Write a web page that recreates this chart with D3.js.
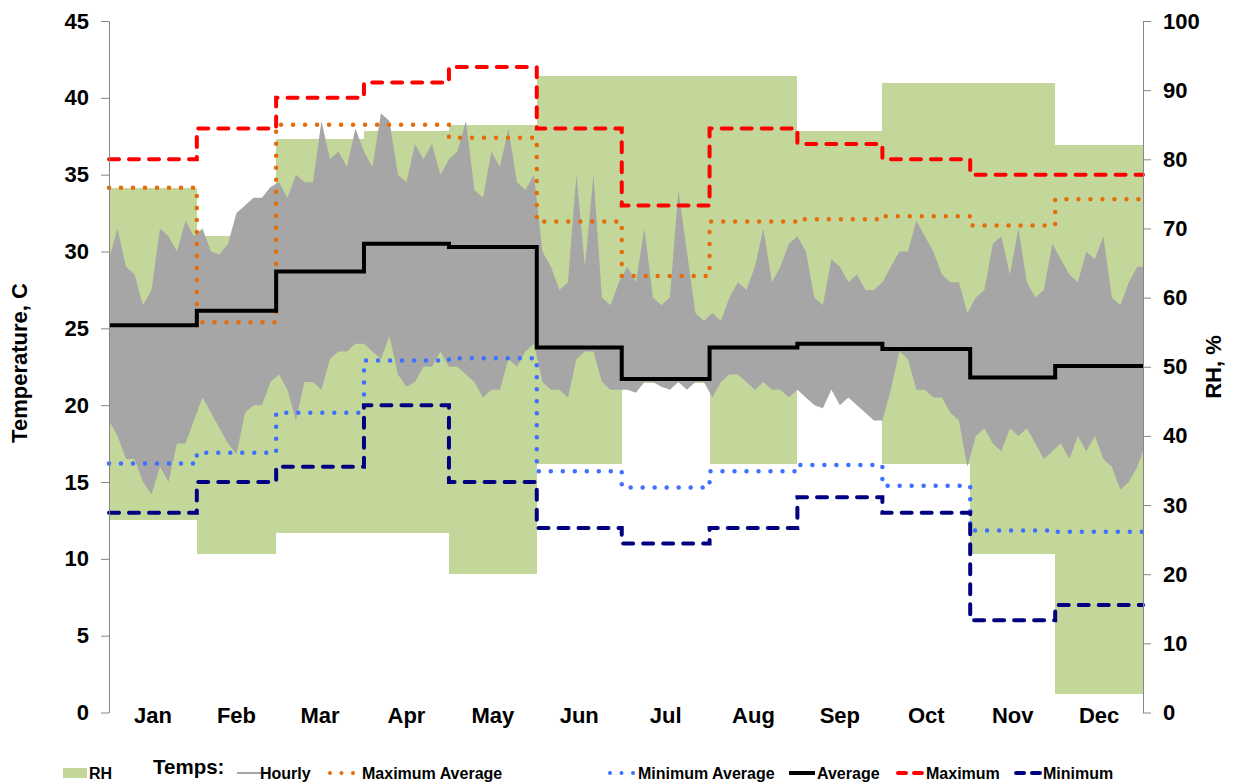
<!DOCTYPE html>
<html lang="en">
<head>
<meta charset="utf-8"/>
<title>Temperature and RH</title>
<script src="https://d3js.org/d3.v7.min.js"></script>
<style>
  body { margin: 0; background: #fff; }
  svg text { font-family: "Liberation Sans", Arial, sans-serif; font-weight: bold; fill: #000; }
  .axis .domain { stroke: #868686; }
  .axis line { stroke: #868686; }
</style>
</head>
<body>
<div id="chart"></div>
<script>
// months and day where each one starts
var months = ["Jan","Feb","Mar","Apr","May","Jun","Jul","Aug","Sep","Oct","Nov","Dec"];
var monthStart = [0, 31, 59, 90, 120, 151, 181, 212, 243, 273, 304, 334, 365];

// RH range per month, %
var rhMin = [27.9, 22.9, 25.9, 25.9, 20.0, 35.9, 47.6, 36.0, 48.1, 35.9, 22.9, 2.7];
var rhMax = [75.9, 68.9, 83.0, 84.1, 85.0, 92.1, 92.1, 92.1, 84.1, 91.0, 91.0, 82.0];

// monthly temperature statistics, C
var tMax    = [36, 38, 40, 41, 42, 38, 33, 38, 37, 36, 35, 35];
var tMaxAvg = [34.15, 25.4, 38.25, 38.25, 37.4, 31.95, 28.4, 31.95, 32.1, 32.3, 31.7, 33.4];
var tAvg    = [25.2, 26.15, 28.7, 30.5, 30.3, 23.75, 21.7, 23.75, 24.0, 23.65, 21.8, 22.55];
var tMinAvg = [16.2, 16.9, 19.5, 22.9, 23.05, 15.7, 14.65, 15.7, 16.1, 14.75, 11.85, 11.77];
var tMin    = [13, 15, 16, 20, 15, 12, 11, 12, 14, 13, 6, 7];

// hourly trace, read as high / low envelope every 3 days
var hourlyDay = d3.range(0, 364, 3).concat([365]);
var hourlyHi = [
  29.5,31.5,29,28.5,26.5,27.5,31.5,31,30,32,31,
  31.5,30,29.8,30.5,32.5,33,33.5,33.5,34.2,
  34.5,33.5,35,34.5,34.5,38.5,36,36.5,35.5,38,36.5,
  35.5,39,38.5,35,34.5,37,36,37,35,
  36,36.5,38.5,34,33.5,36.5,35.5,38,34.5,34,35,
  30,29,27.5,28,35,29,35,27,26.5,28,
  29,28,31.5,27,26.5,27,34,30,26,25.5,
  26,25.5,27,28,27.5,29,31.5,28,29,30.5,
  31,30,27,26.5,29.5,29,28,28.5,27.5,27.5,
  28,29,30,30,32,31,30,28.5,28,28,26,
  27,27.5,30.5,31,28.5,31.5,28,27,27.5,30.5,
  29.5,28.5,28,30,29.5,31,27,26.5,28,29,29
];
var hourlyLo = [
  19,18,16.5,16.5,15,14.2,16,15,17.5,17.5,19,
  20.5,19.5,18.5,17.5,16.8,19.5,20,20,21.5,
  22,21,19,21.5,21.5,21,23,23.5,23.5,24,24,
  23.5,23,24.5,22,21.2,21.5,22.5,22.5,23.5,
  22.5,22.5,22,21.5,20.5,21,21,23,22.5,23.5,24,
  21.5,21,21,20.5,23,23.5,23.5,21.5,21,21,
  21,20.8,21.5,21.5,21.2,21,21.5,21,21.5,21.5,
  20.5,21.5,22,22,21.5,21,21.5,21,21,20.5,
  21,20.5,20,19.8,21,20,20.5,20,19.5,19,
  19,21,23.5,23,21,21,20.5,20.5,19.5,19,16,
  18,18.5,17.5,17,18.5,18,18.5,17.5,16.5,17,
  17.5,16.5,18,17,18,16.5,16,14.5,15,16,17
];

var tTicks = [0, 5, 10, 15, 20, 25, 30, 35, 40, 45];
var rhTicks = [0, 10, 20, 30, 40, 50, 60, 70, 80, 90, 100];

var width = 1233, height = 784;
var m = {top: 21, right: 90, bottom: 71.5, left: 109};

var svg = d3.select("#chart").append("svg")
  .attr("width", width)
  .attr("height", height);

var x = d3.scaleLinear().domain([0, 365]).range([m.left, width - m.right]);
var yT = d3.scaleLinear().domain([0, 45]).range([height - m.bottom, m.top]);
var yRH = d3.scaleLinear().domain([0, 100]).range([height - m.bottom, m.top]);

// RH floating bars
svg.append("g")
  .attr("shape-rendering", "crispEdges")
  .selectAll("rect")
  .data(months)
  .enter().append("rect")
    .attr("x", function(d, i) { return Math.round(x(monthStart[i])); })
    .attr("width", function(d, i) { return Math.round(x(monthStart[i + 1])) - Math.round(x(monthStart[i])); })
    .attr("y", function(d, i) { return yRH(rhMax[i]); })
    .attr("height", function(d, i) { return yRH(rhMin[i]) - yRH(rhMax[i]); })
    .attr("fill", "#c4d79b");

// hourly band
var hourly = hourlyDay.map(function(d, i) { return {day: d, hi: hourlyHi[i], lo: hourlyLo[i]}; });
svg.append("path")
  .datum(hourly)
  .attr("fill", "#a6a6a6")
  .attr("d", d3.area()
    .x(function(d) { return x(d.day); })
    .y0(function(d) { return yT(d.lo); })
    .y1(function(d) { return yT(d.hi); }));

// monthly step lines
var stepLine = d3.line()
  .x(function(d) { return x(d[0]); })
  .y(function(d) { return yT(d[1]); })
  .curve(d3.curveStepAfter);

function steps(vals) {
  var pts = vals.map(function(v, i) { return [monthStart[i], v]; });
  pts.push([365, vals[vals.length - 1]]);
  return pts;
}

var series = [
  {name: "Maximum Average", vals: tMaxAvg, color: "#e46c0a", dotted: true},
  {name: "Minimum Average", vals: tMinAvg, color: "#3f6fff", dotted: true},
  {name: "Average", vals: tAvg, color: "#000", solid: true},
  {name: "Maximum", vals: tMax, color: "#ff0000"},
  {name: "Minimum", vals: tMin, color: "#000080"}
];

function dashOf(d) { return d.solid ? null : (d.dotted ? "0,12" : "10,10"); }

svg.append("g")
  .selectAll("path")
  .data(series)
  .enter().append("path")
    .attr("fill", "none")
    .attr("stroke", function(d) { return d.color; })
    .attr("stroke-width", function(d) { return d.dotted ? 4.5 : 4; })
    .attr("stroke-dasharray", dashOf)
    .attr("stroke-linecap", function(d) { return d.solid ? "butt" : "round"; })
    .attr("d", function(d) { return stepLine(steps(d.vals)); });

// axes
var gl = svg.append("g")
  .attr("class", "axis")
  .attr("transform", "translate(" + m.left + ",0)")
  .call(d3.axisLeft(yT).tickValues(tTicks).tickSize(8).tickPadding(12).tickSizeOuter(0));
gl.selectAll("text").style("font-size", "22px");

var gr = svg.append("g")
  .attr("class", "axis")
  .attr("transform", "translate(" + (width - m.right) + ",0)")
  .call(d3.axisRight(yRH).tickValues(rhTicks).tickSize(8).tickPadding(12).tickSizeOuter(0));
gr.selectAll("text").style("font-size", "22px");

// month labels
svg.append("g")
  .selectAll("text")
  .data(months)
  .enter().append("text")
    .attr("x", function(d, i) { return x((monthStart[i] + monthStart[i + 1]) / 2); })
    .attr("y", 723)
    .attr("text-anchor", "middle")
    .style("font-size", "22px")
    .text(function(d) { return d; });

// axis titles
svg.append("text")
  .attr("transform", "translate(27,363) rotate(-90)")
  .attr("text-anchor", "middle")
  .style("font-size", "22px")
  .text("Temperature, C");

svg.append("text")
  .attr("transform", "translate(1221,367) rotate(-90)")
  .attr("text-anchor", "middle")
  .style("font-size", "22px")
  .text("RH, %");

// legend
var ly = 773;
svg.append("rect").attr("x", 63).attr("y", ly - 5).attr("width", 24).attr("height", 10).attr("fill", "#c4d79b");
svg.append("text").attr("x", 89).attr("y", ly + 6).style("font-size", "16px").text("RH");
svg.append("text").attr("x", 153).attr("y", ly + 1).style("font-size", "20.5px").text("Temps:");

var legendItems = [{name: "Hourly", color: "#a6a6a6", hourly: true}].concat(series);
var legendX = [236, 328, 608, 788, 897, 1015];
var legendTextX = [260, 362, 638, 817, 926, 1043];

var lg = svg.append("g")
  .selectAll("g")
  .data(legendItems)
  .enter().append("g");

lg.append("line")
  .attr("x1", function(d, i) { return legendX[i] + (d.dotted ? 2 : 1); })
  .attr("x2", function(d, i) { return legendX[i] + (d.dotted ? 26 : 27); })
  .attr("y1", ly)
  .attr("y2", ly)
  .attr("stroke", function(d) { return d.color; })
  .attr("stroke-width", function(d) { return d.hourly ? 2 : 4; })
  .attr("stroke-dasharray", function(d) { return d.hourly || d.solid ? null : (d.dotted ? "0,11.5" : "8,8"); })
  .attr("stroke-linecap", function(d) { return d.hourly || d.solid ? "butt" : "round"; });

lg.append("text")
  .attr("x", function(d, i) { return legendTextX[i]; })
  .attr("y", ly + 6)
  .style("font-size", "16px")
  .text(function(d) { return d.name; });
</script>
</body>
</html>
